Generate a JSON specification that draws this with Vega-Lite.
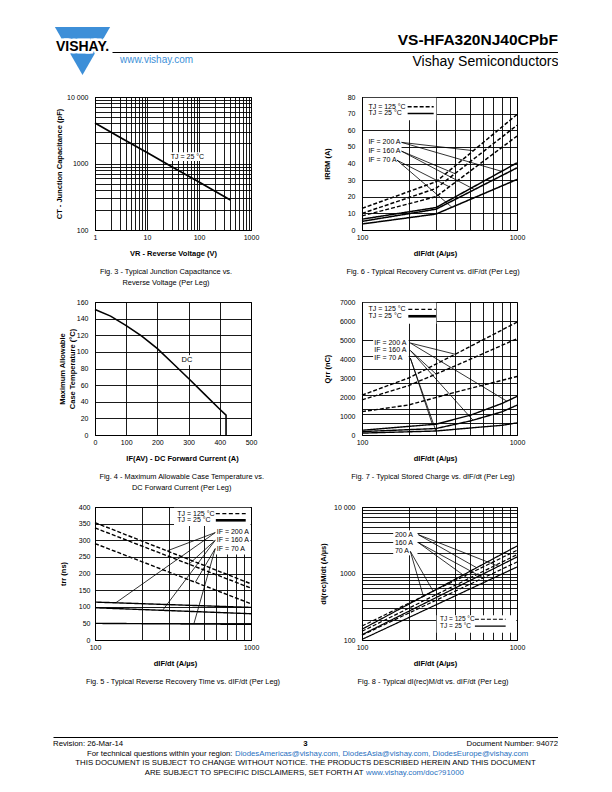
{
"$schema": "https://vega.github.io/schema/vega-lite/v6.json",
"background": "white",
"padding": {"left": 53, "top": 27, "right": 0, "bottom": 0},
"spacing": 17,
"datasets": {
 "header": [{"pos": "left", "txt": "www.vishay.com"}, {"pos": "right", "txt": "VS-HFA320NJ40CPbF"}],
 "footer": [
  {"line": 1, "pos": "left", "part": "plain", "txt": "Revision: 26-Mar-14"},
  {"line": 1, "pos": "center", "part": "page", "txt": "3"},
  {"line": 1, "pos": "right", "part": "plain", "txt": "Document Number: 94072"},
  {"line": 2, "pos": "center", "part": "lead", "txt": "For technical questions within your region:"},
  {"line": 2, "pos": "center", "part": "links", "txt": "DiodesAmericas@vishay.com, DiodesAsia@vishay.com, DiodesEurope@vishay.com"},
  {"line": 3, "pos": "center", "part": "plain", "txt": "THIS DOCUMENT IS SUBJECT TO CHANGE WITHOUT NOTICE. THE PRODUCTS DESCRIBED HEREIN AND THIS DOCUMENT"},
  {"line": 4, "pos": "center", "part": "lead", "txt": "ARE SUBJECT TO SPECIFIC DISCLAIMERS, SET FORTH AT"},
  {"line": 4, "pos": "center", "part": "links", "txt": "www.vishay.com/doc?91000"}
 ],
 "f3curve": [{"x": 1, "y": 4050}, {"x": 3, "y": 2480}, {"x": 10, "y": 1460}, {"x": 30, "y": 895}, {"x": 100, "y": 525}, {"x": 200, "y": 385}, {"x": 400, "y": 283}],
 "f3mask": [{"x": 28, "x2": 125, "y": 1090, "y2": 1480}],
 "f3text": [{"x": 60, "y": 1270, "label": "TJ = 25 °C"}],
 "f4curve": [{"i": 0, "x": 0, "y": 151}, {"i": 1, "x": 50, "y": 143}, {"i": 2, "x": 100, "y": 131.5}, {"i": 3, "x": 150, "y": 119}, {"i": 4, "x": 200, "y": 104}, {"i": 5, "x": 250, "y": 86}, {"i": 6, "x": 300, "y": 68}, {"i": 7, "x": 350, "y": 49.5}, {"i": 8, "x": 400, "y": 31}, {"i": 9, "x": 420, "y": 24}, {"i": 10, "x": 420, "y": 0}],
 "f4mask": [{"x": 276, "x2": 314, "y": 84, "y2": 96}],
 "f4text": [{"x": 295, "y": 90, "label": "DC"}],
 "f6curve": [
  {"s": "a25", "tj": "25 °C", "x": 100, "y": 6.5}, {"s": "a25", "tj": "25 °C", "x": 300, "y": 13.5}, {"s": "a25", "tj": "25 °C", "x": 1000, "y": 40.4},
  {"s": "b25", "tj": "25 °C", "x": 100, "y": 5.2}, {"s": "b25", "tj": "25 °C", "x": 300, "y": 12.5}, {"s": "b25", "tj": "25 °C", "x": 1000, "y": 37.4},
  {"s": "c25", "tj": "25 °C", "x": 100, "y": 3.6}, {"s": "c25", "tj": "25 °C", "x": 300, "y": 9.6}, {"s": "c25", "tj": "25 °C", "x": 1000, "y": 30.4},
  {"s": "a125", "tj": "125 °C", "x": 100, "y": 13}, {"s": "a125", "tj": "125 °C", "x": 300, "y": 29}, {"s": "a125", "tj": "125 °C", "x": 1000, "y": 69.5},
  {"s": "b125", "tj": "125 °C", "x": 100, "y": 10}, {"s": "b125", "tj": "125 °C", "x": 300, "y": 25}, {"s": "b125", "tj": "125 °C", "x": 1000, "y": 63},
  {"s": "c125", "tj": "125 °C", "x": 100, "y": 8.5}, {"s": "c125", "tj": "125 °C", "x": 300, "y": 20}, {"s": "c125", "tj": "125 °C", "x": 1000, "y": 56.5}
 ],
 "f6lead": [
  {"x": 180, "y": 52.7, "x2": 523, "y2": 47.7}, {"x": 180, "y": 52.7, "x2": 796, "y2": 35.3},
  {"x": 180, "y": 47.4, "x2": 398, "y2": 33.9}, {"x": 180, "y": 47.4, "x2": 532, "y2": 24.3},
  {"x": 168, "y": 42, "x2": 366, "y2": 26}, {"x": 168, "y": 42, "x2": 380, "y2": 13.7}
 ],
 "f6text": [
  {"x": 110, "y": 52.7, "label": "IF = 200 A"}, {"x": 110, "y": 47.4, "label": "IF = 160 A"}, {"x": 110, "y": 42, "label": "IF = 70 A"},
  {"x": 110, "y": 74.2, "label": "TJ = 125 °C"}, {"x": 110, "y": 70.1, "label": "TJ = 25 °C"}
 ],
 "f6key": [{"x": 197, "x2": 290, "y": 74.2, "tj": "125 °C"}, {"x": 197, "x2": 290, "y": 70.1, "tj": "25 °C"}],
 "f6mask": [{"x": 101.5, "x2": 302, "y": 66, "y2": 79.6}, {"x": 101.5, "x2": 180, "y": 39, "y2": 56}],
 "f7curve": [
  {"s": "a125", "tj": "125 °C", "x": 100, "y": 2100}, {"s": "a125", "tj": "125 °C", "x": 200, "y": 3000}, {"s": "a125", "tj": "125 °C", "x": 400, "y": 4250}, {"s": "a125", "tj": "125 °C", "x": 1000, "y": 5940},
  {"s": "b125", "tj": "125 °C", "x": 100, "y": 1850}, {"s": "b125", "tj": "125 °C", "x": 200, "y": 2600}, {"s": "b125", "tj": "125 °C", "x": 400, "y": 3640}, {"s": "b125", "tj": "125 °C", "x": 1000, "y": 5070},
  {"s": "c125", "tj": "125 °C", "x": 100, "y": 1230}, {"s": "c125", "tj": "125 °C", "x": 200, "y": 1580}, {"s": "c125", "tj": "125 °C", "x": 400, "y": 2250}, {"s": "c125", "tj": "125 °C", "x": 1000, "y": 3080},
  {"s": "a25", "tj": "25 °C", "x": 100, "y": 250}, {"s": "a25", "tj": "25 °C", "x": 300, "y": 570}, {"s": "a25", "tj": "25 °C", "x": 500, "y": 1040}, {"s": "a25", "tj": "25 °C", "x": 800, "y": 1660}, {"s": "a25", "tj": "25 °C", "x": 1000, "y": 2030},
  {"s": "b25", "tj": "25 °C", "x": 100, "y": 180}, {"s": "b25", "tj": "25 °C", "x": 300, "y": 340}, {"s": "b25", "tj": "25 °C", "x": 500, "y": 740}, {"s": "b25", "tj": "25 °C", "x": 800, "y": 1220}, {"s": "b25", "tj": "25 °C", "x": 1000, "y": 1570},
  {"s": "c25", "tj": "25 °C", "x": 100, "y": 100}, {"s": "c25", "tj": "25 °C", "x": 300, "y": 210}, {"s": "c25", "tj": "25 °C", "x": 500, "y": 370}, {"s": "c25", "tj": "25 °C", "x": 800, "y": 510}, {"s": "c25", "tj": "25 °C", "x": 1000, "y": 640}
 ],
 "f7lead": [
  {"x": 205, "y": 4840, "x2": 400, "y2": 4250}, {"x": 205, "y": 4840, "x2": 860, "y2": 1780},
  {"x": 205, "y": 4450, "x2": 300, "y2": 3210}, {"x": 205, "y": 4450, "x2": 520, "y2": 780},
  {"x": 205, "y": 4050, "x2": 285, "y2": 540}, {"x": 205, "y": 4050, "x2": 300, "y2": 210}
 ],
 "f7text": [
  {"x": 120, "y": 4840, "label": "IF = 200 A"}, {"x": 120, "y": 4450, "label": "IF = 160 A"}, {"x": 120, "y": 4050, "label": "IF = 70 A"},
  {"x": 110, "y": 6610, "label": "TJ = 125 °C"}, {"x": 110, "y": 6250, "label": "TJ = 25 °C"}
 ],
 "f7key": [{"x": 199, "x2": 300, "y": 6610, "tj": "125 °C"}, {"x": 199, "x2": 300, "y": 6250, "tj": "25 °C"}],
 "f7mask": [{"x": 101.5, "x2": 302, "y": 5850, "y2": 6960}, {"x": 118, "x2": 200, "y": 3880, "y2": 5020}],
 "f5curve": [
  {"s": "a125", "tj": "125 °C", "x": 100, "y": 353}, {"s": "a125", "tj": "125 °C", "x": 1000, "y": 169},
  {"s": "b125", "tj": "125 °C", "x": 100, "y": 337}, {"s": "b125", "tj": "125 °C", "x": 1000, "y": 156},
  {"s": "c125", "tj": "125 °C", "x": 100, "y": 290}, {"s": "c125", "tj": "125 °C", "x": 1000, "y": 109},
  {"s": "a25", "tj": "25 °C", "x": 100, "y": 114}, {"s": "a25", "tj": "25 °C", "x": 1000, "y": 98},
  {"s": "b25", "tj": "25 °C", "x": 100, "y": 97}, {"s": "b25", "tj": "25 °C", "x": 1000, "y": 79},
  {"s": "c25", "tj": "25 °C", "x": 100, "y": 50}, {"s": "c25", "tj": "25 °C", "x": 1000, "y": 47}
 ],
 "f5lead": [
  {"x": 590, "y": 323, "x2": 290, "y2": 268}, {"x": 590, "y": 323, "x2": 136, "y2": 112},
  {"x": 590, "y": 300, "x2": 400, "y2": 228}, {"x": 590, "y": 300, "x2": 271, "y2": 89},
  {"x": 590, "y": 275, "x2": 440, "y2": 174}, {"x": 590, "y": 275, "x2": 430, "y2": 48}
 ],
 "f5text": [
  {"x": 603, "y": 325, "label": "IF = 200 A"}, {"x": 603, "y": 300, "label": "IF = 160 A"}, {"x": 603, "y": 275, "label": "IF = 70 A"},
  {"x": 337, "y": 380, "label": "TJ = 125 °C"}, {"x": 337, "y": 360, "label": "TJ = 25 °C"}
 ],
 "f5key": [{"x": 595, "x2": 925, "y": 380, "tj": "125 °C"}, {"x": 595, "x2": 925, "y": 360, "tj": "25 °C"}],
 "f5mask": [{"x": 321, "x2": 993, "y": 343, "y2": 398}, {"x": 575, "x2": 993, "y": 257, "y2": 343}],
 "f8curve": [
  {"s": "a25", "tj": "25 °C", "x": 100, "y": 145}, {"s": "a25", "tj": "25 °C", "x": 1000, "y": 2590},
  {"s": "b25", "tj": "25 °C", "x": 100, "y": 120}, {"s": "b25", "tj": "25 °C", "x": 1000, "y": 1772},
  {"s": "c25", "tj": "25 °C", "x": 100, "y": 102}, {"s": "c25", "tj": "25 °C", "x": 1000, "y": 1253},
  {"s": "a125", "tj": "125 °C", "x": 100, "y": 162}, {"s": "a125", "tj": "125 °C", "x": 1000, "y": 2230},
  {"s": "b125", "tj": "125 °C", "x": 100, "y": 135}, {"s": "b125", "tj": "125 °C", "x": 1000, "y": 1920},
  {"s": "c125", "tj": "125 °C", "x": 100, "y": 118}, {"s": "c125", "tj": "125 °C", "x": 1000, "y": 1490}
 ],
 "f8lead": [
  {"x": 231, "y": 3837, "x2": 549, "y2": 1222}, {"x": 231, "y": 3837, "x2": 760, "y2": 1285},
  {"x": 231, "y": 2911, "x2": 485, "y2": 836}, {"x": 231, "y": 2911, "x2": 606, "y2": 858},
  {"x": 205, "y": 2153, "x2": 249, "y2": 454}, {"x": 205, "y": 2153, "x2": 288, "y2": 541}
 ],
 "f8text": [
  {"x": 163, "y": 3837, "label": "200 A"}, {"x": 163, "y": 2911, "label": "160 A"}, {"x": 163, "y": 2153, "label": "70 A"}
 ],
 "f8legend": [{"x": 319, "y": 205, "label": "TJ = 125 °C"}, {"x": 319, "y": 162, "label": "TJ = 25 °C"}],
 "f8key": [{"x": 535, "x2": 845, "y": 205, "tj": "125 °C"}, {"x": 535, "x2": 845, "y": 162, "tj": "25 °C"}],
 "f8mask": [{"x": 303, "x2": 990, "y": 128, "y2": 236}, {"x": 159, "x2": 228, "y": 1875, "y2": 4457}]
},
"vconcat": [
 {
  "hconcat": [
   {
    "width": 59, "height": 48,
    "data": {"values": [{"brand": "VISHAY."}]},
    "layer": [
     {"mark": {"type": "point", "shape": "triangle-down", "size": 3050, "filled": true, "color": "#3d8fd8", "opacity": 1, "strokeWidth": 0}, "encoding": {}},
     {"mark": {"type": "text", "fontSize": 14, "fontWeight": "bold", "fill": "white", "stroke": "white", "strokeWidth": 5, "baseline": "middle", "dy": -3.7}, "encoding": {"text": {"field": "brand"}}},
     {"mark": {"type": "text", "fontSize": 14, "fontWeight": "bold", "color": "black", "baseline": "middle", "dy": -3.7}, "encoding": {"text": {"field": "brand"}}}
    ]
   },
   {
    "width": 446, "height": 25,
    "data": {"name": "header"},
    "encoding": {
     "x": {"field": "pos", "type": "nominal", "scale": {"type": "point", "domain": ["left", "right"], "padding": 0},
       "axis": {"orient": "bottom", "domain": true, "domainColor": "black", "domainWidth": 1.2, "labels": false, "ticks": false, "grid": false, "title": "Vishay Semiconductors", "titleAnchor": "end", "titleFontSize": 14, "titleFontWeight": "normal", "titleColor": "black", "titlePadding": 2, "minExtent": 0, "maxExtent": 0}},
     "text": {"field": "txt"}
    },
    "layer": [
     {"transform": [{"filter": "datum.pos == 'right'"}], "mark": {"type": "text", "align": "right", "baseline": "alphabetic", "dy": 5, "fontSize": 15.5, "fontWeight": "bold", "color": "black"}},
     {"transform": [{"filter": "datum.pos == 'left'"}], "mark": {"type": "text", "align": "left", "baseline": "alphabetic", "dx": 8, "dy": 23, "fontSize": 10, "color": "#3d8fd8"}}
    ]
   }
  ],
  "spacing": 0, "bounds": "flush"
 },
 {
  "hconcat": [
   {"width": 42, "height": 1, "data": {"values": []}, "mark": "point"},
   {
    "concat": [
     {
      "width": 156, "height": 133, "view": {"stroke": "black"},
      "title": {"text": ["Fig. 3 - Typical Junction Capacitance vs.", "Reverse Voltage (Per Leg)"], "dx": -7},
      "encoding": {
       "x": {"field": "x", "type": "quantitative", "scale": {"type": "log", "domain": [1, 1000], "nice": false},
         "axis": {"values": [1,2,3,4,5,6,7,8,9,10,20,30,40,50,60,70,80,90,100,200,300,400,500,600,700,800,900,1000], "labelExpr": "datum.value == 1 || datum.value == 10 || datum.value == 100 || datum.value == 1000 ? '' + datum.value : ''", "title": "VR - Reverse Voltage (V)"}},
       "y": {"field": "y", "type": "quantitative", "scale": {"type": "log", "domain": [100, 10000], "nice": false},
         "axis": {"values": [100,200,300,400,500,600,700,800,900,1000,2000,3000,4000,5000,6000,7000,8000,9000,10000], "labelExpr": "datum.value == 10000 ? '10 000' : (datum.value == 100 || datum.value == 1000 ? '' + datum.value : '')", "title": "CT - Junction Capacitance (pF)", "titlePadding": 3.7}}
      },
      "layer": [
       {"data": {"name": "f3mask"}, "mark": {"type": "rect", "color": "white"}, "encoding": {"x2": {"field": "x2"}, "y2": {"field": "y2"}}},
       {"data": {"name": "f3curve"}, "mark": {"type": "line", "strokeWidth": 1.7, "color": "black"}},
       {"data": {"name": "f3text"}, "mark": {"type": "text", "align": "center", "baseline": "middle"}, "encoding": {"text": {"field": "label"}}}
      ]
     },
     {
      "width": 155, "height": 133, "view": {"stroke": "black"},
      "title": {"text": "Fig. 6 - Typical Recovery Current vs. dIF/dt (Per Leg)", "dx": -6.5},
      "encoding": {
       "x": {"field": "x", "type": "quantitative", "scale": {"type": "log", "domain": [100, 1000], "nice": false},
         "axis": {"values": [100,200,300,400,500,600,700,800,900,1000], "labelExpr": "datum.value == 100 || datum.value == 1000 ? '' + datum.value : ''", "title": "dIF/dt (A/µs)", "titleX": 73}},
       "y": {"field": "y", "type": "quantitative", "scale": {"domain": [0, 80], "nice": false},
         "axis": {"values": [0,10,20,30,40,50,60,70,80], "title": "IRRM (A)", "titlePadding": 2.7}}
      },
      "layer": [
       {"data": {"name": "f6mask"}, "mark": {"type": "rect", "color": "white"}, "encoding": {"x2": {"field": "x2"}, "y2": {"field": "y2"}}},
       {"data": {"name": "f6curve"}, "mark": {"type": "line", "strokeWidth": 1.5, "color": "black"}, "encoding": {"detail": {"field": "s"}, "strokeDash": {"field": "tj", "type": "nominal", "scale": {"domain": ["125 °C", "25 °C"], "range": [[4, 2], [1, 0]]}, "legend": null}}},
       {"data": {"name": "f6lead"}, "mark": {"type": "rule", "strokeWidth": 0.8, "color": "black"}, "encoding": {"x2": {"field": "x2"}, "y2": {"field": "y2"}}},
       {"data": {"name": "f6key"}, "mark": {"type": "rule", "strokeWidth": 1.5, "color": "black"}, "encoding": {"x2": {"field": "x2"}, "strokeDash": {"field": "tj", "type": "nominal", "legend": null}}},
       {"data": {"name": "f6text"}, "mark": {"type": "text", "align": "left", "baseline": "middle"}, "encoding": {"text": {"field": "label"}}}
      ]
     },
     {
      "width": 156, "height": 133, "view": {"stroke": "black"},
      "title": {"text": ["Fig. 4 - Maximum Allowable Case Temperature vs.", "DC Forward Current (Per Leg)"], "dx": 8.7},
      "encoding": {
       "x": {"field": "x", "type": "quantitative", "scale": {"domain": [0, 500], "nice": false},
         "axis": {"values": [0,100,200,300,400,500], "title": "IF(AV) - DC Forward Current (A)", "titleX": 87}},
       "y": {"field": "y", "type": "quantitative", "scale": {"domain": [0, 160], "nice": false},
         "axis": {"values": [0,20,40,60,80,100,120,140,160], "title": ["Maximum Allowable", "Case Temperature (°C)"], "minExtent": 18.7, "maxExtent": 18.7, "titlePadding": 0, "titleLineHeight": 10}}
      },
      "layer": [
       {"data": {"name": "f4mask"}, "mark": {"type": "rect", "color": "white"}, "encoding": {"x2": {"field": "x2"}, "y2": {"field": "y2"}}},
       {"data": {"name": "f4curve"}, "mark": {"type": "line", "strokeWidth": 1.6, "color": "black"}, "encoding": {"order": {"field": "i", "type": "quantitative"}}},
       {"data": {"name": "f4text"}, "mark": {"type": "text", "align": "center", "baseline": "middle", "fontSize": 7.5}, "encoding": {"text": {"field": "label"}}}
      ]
     },
     {
      "width": 155, "height": 133, "view": {"stroke": "black"},
      "title": {"text": "Fig. 7 - Typical Stored Charge vs. dIF/dt (Per Leg)", "dx": -6.5},
      "resolve": {"axis": {"y": "independent"}},
      "encoding": {
       "x": {"field": "x", "type": "quantitative", "scale": {"type": "log", "domain": [100, 1000], "nice": false},
         "axis": {"values": [100,200,300,400,500,600,700,800,900,1000], "labelExpr": "datum.value == 100 || datum.value == 1000 ? '' + datum.value : ''", "title": "dIF/dt (A/µs)", "titleX": 73}}
      },
      "layer": [
       {"data": {"name": "f7mask"}, "mark": {"type": "rect", "color": "white"},
        "encoding": {"y": {"field": "y", "type": "quantitative", "scale": {"domain": [0, 7000], "nice": false}, "axis": {"orient": "left", "values": [650,1090,1370,2110,2740,3480,4170,5000,6000], "labels": false, "domain": false, "title": null, "grid": true, "minExtent": 0, "maxExtent": 0}}, "x2": {"field": "x2"}, "y2": {"field": "y2"}}},
       {"data": {"name": "f7curve"}, "mark": {"type": "line", "strokeWidth": 1.4, "color": "black"},
        "encoding": {"y": {"field": "y", "type": "quantitative", "axis": {"orient": "left", "values": [0,1000,2000,3000,4000,5000,6000,7000], "format": "d", "grid": false, "title": "Qrr (nC)", "titlePadding": 2.4}}, "detail": {"field": "s"}, "strokeDash": {"field": "tj", "type": "nominal", "scale": {"domain": ["125 °C", "25 °C"], "range": [[4, 2.5], [1, 0]]}, "legend": null}}},
       {"data": {"name": "f7lead"}, "mark": {"type": "rule", "strokeWidth": 0.8, "color": "black"},
        "encoding": {"y": {"field": "y", "type": "quantitative", "axis": null}, "x2": {"field": "x2"}, "y2": {"field": "y2"}}},
       {"data": {"name": "f7key"}, "transform": [{"filter": "datum.tj == '125 °C'"}], "mark": {"type": "rule", "strokeWidth": 1.3, "strokeDash": [4, 2.5], "color": "black"},
        "encoding": {"y": {"field": "y", "type": "quantitative", "axis": null}, "x2": {"field": "x2"}}},
       {"data": {"name": "f7key"}, "transform": [{"filter": "datum.tj == '25 °C'"}], "mark": {"type": "rule", "strokeWidth": 2.6, "color": "black"},
        "encoding": {"y": {"field": "y", "type": "quantitative", "axis": null}, "x2": {"field": "x2"}}},
       {"data": {"name": "f7text"}, "mark": {"type": "text", "align": "left", "baseline": "middle"},
        "encoding": {"y": {"field": "y", "type": "quantitative", "axis": null}, "text": {"field": "label"}}}
      ]
     },
     {
      "width": 156, "height": 133, "view": {"stroke": "black"},
      "title": {"text": "Fig. 5 - Typical Reverse Recovery Time vs. dIF/dt (Per Leg)", "dx": 10},
      "encoding": {
       "x": {"field": "x", "type": "quantitative", "scale": {"type": "log", "domain": [100, 1000], "nice": false},
         "axis": {"values": [100,200,300,400,500,600,700,800,900,1000], "labelExpr": "datum.value == 100 || datum.value == 1000 ? '' + datum.value : ''", "title": "dIF/dt (A/µs)", "titleX": 80}},
       "y": {"field": "y", "type": "quantitative", "scale": {"domain": [0, 400], "nice": false},
         "axis": {"values": [0,50,100,150,200,250,300,350,400], "title": "trr (ns)", "labelPadding": 5, "minExtent": 17, "maxExtent": 17, "titlePadding": 10.7}}
      },
      "layer": [
       {"data": {"name": "f5mask"}, "mark": {"type": "rect", "color": "white"}, "encoding": {"x2": {"field": "x2"}, "y2": {"field": "y2"}}},
       {"data": {"name": "f5curve"}, "mark": {"type": "line", "strokeWidth": 1.4, "color": "black"}, "encoding": {"detail": {"field": "s"}, "strokeDash": {"field": "tj", "type": "nominal", "scale": {"domain": ["125 °C", "25 °C"], "range": [[4, 2.5], [1, 0]]}, "legend": null}}},
       {"data": {"name": "f5lead"}, "mark": {"type": "rule", "strokeWidth": 0.8, "color": "black"}, "encoding": {"x2": {"field": "x2"}, "y2": {"field": "y2"}}},
       {"data": {"name": "f5key"}, "transform": [{"filter": "datum.tj == '125 °C'"}], "mark": {"type": "rule", "strokeWidth": 1.3, "strokeDash": [4, 2.5], "color": "black"}, "encoding": {"x2": {"field": "x2"}}},
       {"data": {"name": "f5key"}, "transform": [{"filter": "datum.tj == '25 °C'"}], "mark": {"type": "rule", "strokeWidth": 2.6, "color": "black"}, "encoding": {"x2": {"field": "x2"}}},
       {"data": {"name": "f5text"}, "mark": {"type": "text", "align": "left", "baseline": "middle"}, "encoding": {"text": {"field": "label"}}}
      ]
     },
     {
      "width": 155, "height": 133, "view": {"stroke": "black"},
      "title": {"text": "Fig. 8 - Typical dI(rec)M/dt vs. dIF/dt (Per Leg)", "dx": -6.5},
      "encoding": {
       "x": {"field": "x", "type": "quantitative", "scale": {"type": "log", "domain": [100, 1000], "nice": false},
         "axis": {"values": [100,200,300,400,500,600,700,800,900,1000], "labelExpr": "datum.value == 100 || datum.value == 1000 ? '' + datum.value : ''", "title": "dIF/dt (A/µs)", "titleX": 73}},
       "y": {"field": "y", "type": "quantitative", "scale": {"type": "log", "domain": [100, 10000], "nice": false},
         "axis": {"values": [100,200,300,400,500,600,700,800,900,1000,2000,3000,4000,5000,6000,7000,8000,9000,10000], "labelExpr": "datum.value == 10000 ? '10 000' : (datum.value == 100 || datum.value == 1000 ? '' + datum.value : '')", "title": "dI(rec)M/dt (A/µs)", "titlePadding": 6.4}}
      },
      "layer": [
       {"data": {"name": "f8mask"}, "mark": {"type": "rect", "color": "white"}, "encoding": {"x2": {"field": "x2"}, "y2": {"field": "y2"}}},
       {"data": {"name": "f8curve"}, "mark": {"type": "line", "strokeWidth": 1.2, "color": "black"}, "encoding": {"detail": {"field": "s"}, "strokeDash": {"field": "tj", "type": "nominal", "scale": {"domain": ["125 °C", "25 °C"], "range": [[3, 2], [1, 0]]}, "legend": null}}},
       {"data": {"name": "f8lead"}, "mark": {"type": "rule", "strokeWidth": 0.8, "color": "black"}, "encoding": {"x2": {"field": "x2"}, "y2": {"field": "y2"}}},
       {"data": {"name": "f8key"}, "mark": {"type": "rule", "strokeWidth": 1.2, "color": "black"}, "encoding": {"x2": {"field": "x2"}, "strokeDash": {"field": "tj", "type": "nominal", "legend": null}}},
       {"data": {"name": "f8text"}, "mark": {"type": "text", "align": "left", "baseline": "middle"}, "encoding": {"text": {"field": "label"}}},
       {"data": {"name": "f8legend"}, "mark": {"type": "text", "align": "left", "baseline": "middle", "fontSize": 6.5}, "encoding": {"text": {"field": "label"}}}
      ]
     }
    ],
    "columns": 2, "spacing": {"row": 72, "column": 111}, "bounds": "flush", "align": "all"
   }
  ],
  "spacing": 0, "bounds": "flush"
 },
 {"width": 1, "height": 17, "data": {"values": []}, "mark": "point"},
 {
  "width": 505, "height": 43,
  "data": {"name": "footer"},
  "encoding": {
   "x": {"field": "pos", "type": "nominal", "scale": {"type": "point", "domain": ["left", "center", "right"], "padding": 0},
     "axis": {"orient": "top", "domain": true, "domainColor": "black", "domainWidth": 1, "labels": false, "ticks": false, "grid": false, "title": null, "minExtent": 0, "maxExtent": 0}},
   "y": {"field": "line", "type": "ordinal", "scale": {"type": "point", "domain": [1, 2, 3, 4], "padding": 0.68}, "axis": null},
   "text": {"field": "txt"}
  },
  "layer": [
   {"transform": [{"filter": "datum.part == 'plain' && datum.pos == 'left'"}], "mark": {"type": "text", "align": "left", "baseline": "middle", "fontSize": 7.8}},
   {"transform": [{"filter": "datum.part == 'page'"}], "mark": {"type": "text", "align": "center", "baseline": "middle", "fontSize": 7.8, "fontWeight": "bold"}},
   {"transform": [{"filter": "datum.part == 'plain' && datum.pos == 'right'"}], "mark": {"type": "text", "align": "right", "baseline": "middle", "fontSize": 7.8}},
   {"transform": [{"filter": "datum.part == 'plain' && datum.pos == 'center'"}], "mark": {"type": "text", "align": "center", "baseline": "middle", "fontSize": 7.8}},
   {"transform": [{"filter": "datum.part == 'lead' && datum.line == 2"}], "mark": {"type": "text", "align": "right", "baseline": "middle", "fontSize": 7.8, "dx": -73}},
   {"transform": [{"filter": "datum.part == 'links' && datum.line == 2"}], "mark": {"type": "text", "align": "left", "baseline": "middle", "fontSize": 7.8, "dx": -70.5, "color": "#1f6fc0"}},
   {"transform": [{"filter": "datum.part == 'lead' && datum.line == 4"}], "mark": {"type": "text", "align": "right", "baseline": "middle", "fontSize": 7.8, "dx": 58}},
   {"transform": [{"filter": "datum.part == 'links' && datum.line == 4"}], "mark": {"type": "text", "align": "left", "baseline": "middle", "fontSize": 7.8, "dx": 60.5, "color": "#1f6fc0"}}
  ]
 }
],
"config": {
 "font": "Liberation Sans",
 "view": {"stroke": null},
 "axis": {"ticks": false, "labelFontSize": 7, "labelColor": "black", "titleFontSize": 7.5, "titleFontWeight": "bold", "titleColor": "black", "domainColor": "black", "domainWidth": 1, "gridColor": "black", "gridOpacity": 1, "gridWidth": 0.9, "labelFlush": false, "labelOverlap": false},
 "axisX": {"labelPadding": 3, "minExtent": 11, "maxExtent": 11, "titlePadding": 8.5},
 "axisY": {"labelPadding": 7, "minExtent": 28, "maxExtent": 28, "titlePadding": 3.5},
 "title": {"fontSize": 7.4, "fontWeight": "normal", "color": "black", "orient": "bottom", "anchor": "middle", "frame": "group", "offset": 11, "lineHeight": 11},
 "text": {"fontSize": 7, "color": "black"}
}
}
